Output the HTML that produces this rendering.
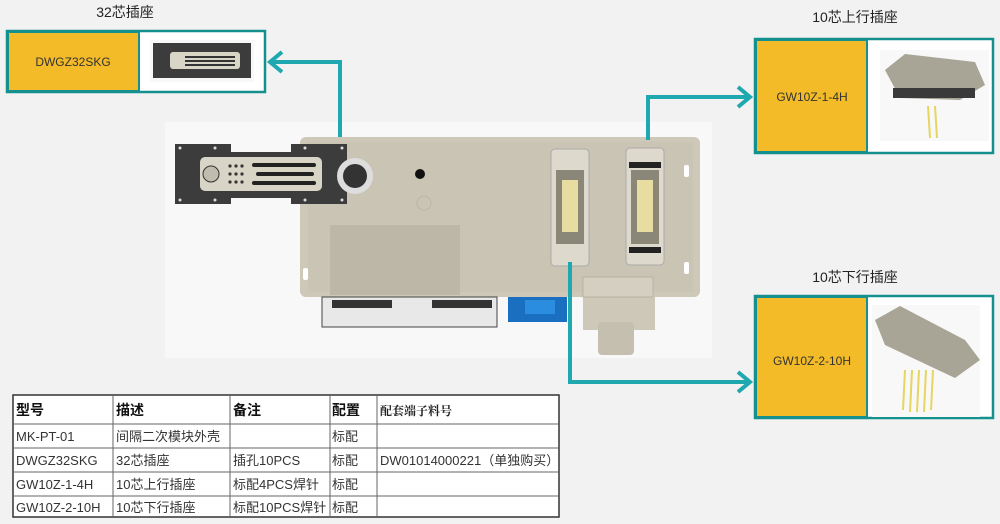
<!DOCTYPE html>
<html><head><meta charset="utf-8"><style>
html,body{margin:0;padding:0;background:#f2f2f2;}
svg{display:block;font-family:"Liberation Sans","Noto Sans CJK SC",sans-serif;}
</style></head><body>
<svg width="1000" height="524" viewBox="0 0 1000 524" xmlns="http://www.w3.org/2000/svg">
<rect width="1000" height="524" fill="#f2f2f2"/>
<rect x="165" y="122" width="547" height="236" fill="#f8f8f8"/>
<rect x="300" y="137" width="400" height="160" rx="6" fill="#cdc8b8"/>
<rect x="308" y="142" width="385" height="150" fill="#c9c4b3"/>
<rect x="330" y="225" width="130" height="70" fill="#bcb7a6"/>
<rect x="684" y="165" width="5" height="12" rx="2" fill="#fff"/>
<rect x="684" y="262" width="5" height="12" rx="2" fill="#fff"/>
<rect x="303" y="268" width="5" height="12" rx="2" fill="#fff"/>
<circle cx="420" cy="174" r="5" fill="#111"/>
<circle cx="424" cy="203" r="7" fill="none" stroke="#bbb6a6"/>
<rect x="322" y="297" width="175" height="30" fill="#e8e8e8" stroke="#444"/>
<rect x="332" y="300" width="60" height="8" fill="#333"/>
<rect x="432" y="300" width="60" height="8" fill="#333"/>
<rect x="508" y="297" width="59" height="25" fill="#1a6fc0"/>
<rect x="525" y="300" width="30" height="14" fill="#2a8de0"/>
<rect x="583" y="297" width="72" height="33" fill="#cdc8b8"/>
<rect x="583" y="277" width="70" height="20" fill="#d4cfc0" stroke="#b8b3a3"/>
<rect x="598" y="322" width="36" height="33" rx="4" fill="#c4bfae"/>
<path d="M175 144 H231 V152 H291 V144 H347 V204 H291 V198 H231 V204 H175 Z" fill="#3c3c3c"/>
<g fill="#ddd"><circle cx="180" cy="148" r="1.5"/><circle cx="215" cy="148" r="1.5"/><circle cx="180" cy="200" r="1.5"/><circle cx="215" cy="200" r="1.5"/><circle cx="305" cy="148" r="1.5"/><circle cx="342" cy="148" r="1.5"/><circle cx="305" cy="200" r="1.5"/><circle cx="342" cy="200" r="1.5"/></g>
<rect x="200" y="157" width="122" height="34" rx="5" fill="#d8d4c6"/>
<circle cx="211" cy="174" r="8" fill="#c0bcae" stroke="#333"/>
<g fill="#333">
<circle cx="230" cy="166" r="1.6"/><circle cx="236" cy="166" r="1.6"/><circle cx="242" cy="166" r="1.6"/>
<circle cx="230" cy="174" r="1.6"/><circle cx="236" cy="174" r="1.6"/><circle cx="242" cy="174" r="1.6"/>
<circle cx="230" cy="182" r="1.6"/><circle cx="236" cy="182" r="1.6"/><circle cx="242" cy="182" r="1.6"/>
</g>
<g fill="#222">
<rect x="252" y="163" width="64" height="4" rx="2"/><rect x="256" y="172" width="58" height="4" rx="2"/><rect x="252" y="181" width="64" height="4" rx="2"/>
</g>
<circle cx="355" cy="176" r="18" fill="#ddd"/><circle cx="355" cy="176" r="12" fill="#333"/>
<rect x="551" y="149" width="38" height="117" rx="4" fill="#ddd9cc" stroke="#aaa"/>
<rect x="556" y="170" width="28" height="74" fill="#8a8778"/>
<rect x="626" y="148" width="38" height="117" rx="4" fill="#ddd9cc" stroke="#aaa"/>
<rect x="631" y="170" width="28" height="74" fill="#8a8778"/>
<rect x="629" y="162" width="32" height="6" fill="#222"/>
<rect x="629" y="247" width="32" height="6" fill="#222"/>
<g fill="#e8dca0"><rect x="562" y="180" width="16" height="52"/><rect x="637" y="180" width="16" height="52"/></g>
<g stroke="#1fa8b0" stroke-width="4" fill="none">
<polyline points="340,137 340,62 270,62"/>
<polyline points="282,52 270,62 282,72"/>
<polyline points="648,140 648,97 750,97"/>
<polyline points="738,87 750,97 738,107"/>
<polyline points="570,262 570,382 750,382"/>
<polyline points="738,372 750,382 738,392"/>
</g>
<text x="125" y="17" font-size="14" text-anchor="middle" fill="#222">32芯插座</text>
<rect x="7" y="31" width="258" height="61" fill="#fff" stroke="#14908f" stroke-width="2.5"/>
<rect x="8" y="32" width="131" height="59" fill="#f2bb27" stroke="#14908f" stroke-width="2"/>
<text x="73" y="66" font-size="12" text-anchor="middle" fill="#333">DWGZ32SKG</text>
<rect x="150" y="40" width="104" height="42" fill="#f8f8f8"/>
<rect x="153" y="43" width="98" height="35" fill="#3c3c3c"/>
<rect x="170" y="52" width="70" height="17" rx="3" fill="#d8d4c6"/>
<g fill="#333"><rect x="185" y="56" width="50" height="2"/><rect x="185" y="60" width="50" height="2"/><rect x="185" y="64" width="50" height="2"/></g>
<text x="855" y="22" font-size="14" text-anchor="middle" fill="#222">10芯上行插座</text>
<rect x="755" y="39" width="238" height="114" fill="#fff" stroke="#14908f" stroke-width="2.5"/>
<rect x="756" y="40" width="111" height="112" fill="#f2bb27" stroke="#14908f" stroke-width="2"/>
<text x="812" y="101" font-size="12" text-anchor="middle" fill="#333">GW10Z-1-4H</text>
<rect x="880" y="50" width="109" height="91" fill="#f8f8f8"/>
<path d="M885 70 L905 54 L975 62 L985 85 L960 100 L900 98 Z" fill="#a8a496"/>
<rect x="893" y="88" width="82" height="10" fill="#3a3a3a"/>
<g stroke="#e6d560" stroke-width="2"><line x1="928" y1="106" x2="930" y2="138"/><line x1="935" y1="106" x2="937" y2="138"/></g>
<text x="855" y="282" font-size="14" text-anchor="middle" fill="#222">10芯下行插座</text>
<rect x="755" y="296" width="238" height="122" fill="#fff" stroke="#14908f" stroke-width="2.5"/>
<rect x="756" y="297" width="111" height="120" fill="#f2bb27" stroke="#14908f" stroke-width="2"/>
<text x="812" y="365" font-size="12" text-anchor="middle" fill="#333">GW10Z-2-10H</text>
<rect x="872" y="305" width="108" height="112" fill="#f8f8f8"/>
<path d="M875 320 L900 306 L965 340 L980 360 L955 378 L885 345 Z" fill="#a8a496"/>
<g stroke="#e6d560" stroke-width="2"><line x1="905" y1="370" x2="903" y2="410"/><line x1="912" y1="370" x2="910" y2="412"/><line x1="919" y1="370" x2="917" y2="412"/><line x1="926" y1="370" x2="924" y2="412"/><line x1="933" y1="370" x2="931" y2="410"/></g>
<rect x="13" y="395" width="546" height="122" fill="#fff" stroke="#333" stroke-width="1.5"/>
<g stroke="#666" stroke-width="1">
<line x1="13" y1="424" x2="559" y2="424"/><line x1="13" y1="448" x2="559" y2="448"/><line x1="13" y1="472" x2="559" y2="472"/><line x1="13" y1="496" x2="559" y2="496"/>
<line x1="113" y1="395" x2="113" y2="517"/><line x1="230" y1="395" x2="230" y2="517"/><line x1="330" y1="395" x2="330" y2="517"/><line x1="377" y1="395" x2="377" y2="517"/>
</g>
<g font-size="14" font-weight="bold" fill="#111">
<text x="16" y="415">型号</text><text x="116" y="415">描述</text><text x="233" y="415">备注</text><text x="332" y="415">配置</text>
</g>
<text x="380" y="415" font-size="12" font-weight="bold" fill="#222" font-family="'Noto Serif CJK SC',serif">配套端子料号</text>
<g font-size="13" fill="#333">
<text x="16" y="441">MK-PT-01</text><text x="116" y="441">间隔二次模块外壳</text><text x="332" y="441">标配</text>
<text x="16" y="465">DWGZ32SKG</text><text x="116" y="465">32芯插座</text><text x="233" y="465">插孔10PCS</text><text x="332" y="465">标配</text><text x="380" y="465">DW01014000221（单独购买）</text>
<text x="16" y="489">GW10Z-1-4H</text><text x="116" y="489">10芯上行插座</text><text x="233" y="489">标配4PCS焊针</text><text x="332" y="489">标配</text>
<text x="16" y="512">GW10Z-2-10H</text><text x="116" y="512">10芯下行插座</text><text x="233" y="512">标配10PCS焊针</text><text x="332" y="512">标配</text>
</g>
</svg>
</body></html>
